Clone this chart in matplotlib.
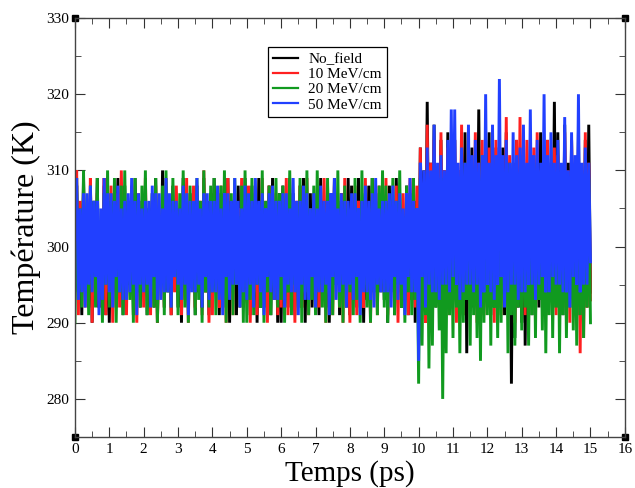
import numpy as np
import matplotlib.pyplot as plt

plt.rcParams['font.family'] = ['Liberation Serif', 'DejaVu Serif']

# time axis: one sample every 0.05 ps, 0 -> 15 ps
temps = np.round(np.arange(0, 301) * 0.05, 2)

# temperatures (K), one row per ps
no_field = [
    298, 308, 293, 305, 291, 309, 295, 304, 292, 307, 290, 306, 294, 309, 292, 303, 296, 308, 291, 305,
    290, 307, 294, 304, 292, 309, 296, 305, 291, 308, 293, 303, 295, 307, 291, 309, 294, 305, 292, 306,
    295, 308, 291, 305, 294, 307, 292, 309, 290, 304, 295, 310, 292, 306, 294, 303, 291, 308, 295, 305,
    292, 305, 290, 309, 294, 304, 292, 307, 296, 305, 291, 308, 294, 303, 292, 309, 295, 306, 291, 307,
    293, 309, 295, 304, 291, 307, 294, 305, 292, 309, 290, 306, 295, 304, 291, 308, 294, 305, 292, 309,
    295, 306, 291, 308, 293, 304, 290, 309, 294, 306, 292, 304, 295, 308, 291, 309, 293, 305, 290, 307,
    290, 308, 294, 305, 292, 309, 295, 306, 291, 304, 294, 308, 292, 309, 290, 305, 295, 307, 292, 304,
    294, 305, 291, 309, 295, 306, 292, 308, 290, 304, 293, 309, 295, 305, 291, 307, 294, 304, 292, 309,
    291, 308, 295, 304, 292, 309, 294, 306, 290, 305, 293, 308, 291, 309, 295, 304, 292, 307, 294, 308,
    293, 306, 290, 308, 295, 305, 291, 309, 294, 307, 292, 304, 295, 308, 291, 305, 293, 309, 290, 306,
    292, 313, 296, 310, 293, 319, 295, 311, 294, 316, 292, 309, 296, 314, 293, 310, 295, 315, 292, 311,
    294, 314, 292, 310, 295, 313, 291, 315, 286, 311, 294, 313, 292, 309, 295, 318, 293, 311, 294, 314,
    293, 315, 291, 311, 295, 313, 292, 310, 294, 313, 291, 315, 293, 310, 282, 311, 288, 314, 292, 312,
    290, 315, 287, 310, 293, 314, 291, 312, 295, 309, 292, 315, 294, 311, 291, 314, 293, 310, 295, 319,
    292, 315, 294, 310, 291, 316, 293, 311, 295, 314, 292, 310, 294, 315, 291, 309, 293, 314, 292, 316,
    294]

field_10 = [
    303, 310, 291, 306, 295, 308, 292, 304, 296, 309, 290, 305, 294, 307, 292, 303, 297, 309, 291, 306,
    294, 308, 290, 305, 296, 307, 292, 310, 295, 304, 291, 306, 297, 308, 293, 303, 290, 307, 295, 305,
    292, 309, 296, 304, 291, 306, 294, 308, 290, 303, 295, 307, 292, 309, 296, 305, 291, 304, 294, 308,
    296, 304, 291, 307, 293, 309, 290, 305, 295, 308, 292, 303, 297, 306, 291, 310, 294, 304, 290, 307,
    291, 306, 295, 303, 292, 308, 296, 305, 290, 309, 294, 304, 291, 307, 296, 305, 292, 309, 295, 303,
    295, 308, 290, 305, 294, 307, 291, 303, 296, 309, 292, 306, 290, 308, 295, 304, 293, 307, 291, 305,
    292, 305, 296, 309, 291, 304, 294, 307, 290, 306, 295, 308, 292, 303, 296, 309, 291, 305, 294, 307,
    296, 307, 292, 304, 295, 309, 290, 306, 294, 303, 291, 308, 296, 305, 292, 307, 290, 309, 295, 304,
    290, 304, 294, 308, 291, 306, 296, 303, 292, 309, 295, 305, 290, 307, 294, 304, 291, 308, 296, 306,
    294, 309, 291, 306, 296, 304, 292, 308, 290, 305, 295, 307, 293, 304, 291, 309, 296, 306, 292, 308,
    289, 313, 293, 308, 290, 316, 294, 311, 291, 314, 296, 309, 292, 315, 289, 310, 295, 313, 291, 309,
    293, 314, 290, 310, 295, 316, 291, 309, 294, 313, 292, 310, 295, 315, 290, 311, 293, 314, 291, 310,
    292, 313, 295, 309, 290, 314, 293, 311, 291, 310, 294, 317, 292, 312, 296, 309, 290, 314, 293, 317,
    294, 311, 291, 314, 296, 309, 292, 313, 290, 315, 293, 310, 295, 311, 291, 314, 294, 309, 292, 313,
    291, 312, 294, 309, 292, 315, 295, 310, 290, 314, 293, 311, 291, 313, 286, 310, 288, 315, 292, 311,
    293]

field_20 = [
    290, 309, 294, 305, 292, 310, 295, 304, 291, 308, 296, 306, 292, 309, 294, 303, 290, 307, 295, 310,
    292, 306, 295, 309, 290, 304, 294, 308, 291, 310, 296, 305, 293, 307, 290, 309, 294, 304, 292, 308,
    295, 310, 291, 305, 294, 307, 292, 309, 290, 304, 295, 308, 291, 310, 294, 306, 292, 309, 296, 305,
    291, 307, 294, 310, 292, 305, 290, 308, 295, 304, 291, 309, 293, 306, 290, 310, 294, 305, 292, 308,
    294, 309, 291, 306, 295, 308, 292, 310, 290, 305, 294, 307, 291, 309, 295, 304, 292, 308, 290, 310,
    290, 305, 293, 309, 291, 307, 295, 304, 292, 310, 290, 306, 294, 308, 291, 305, 295, 309, 292, 307,
    293, 308, 290, 305, 294, 310, 291, 307, 295, 304, 292, 309, 290, 306, 294, 310, 291, 305, 293, 308,
    291, 310, 295, 306, 292, 304, 290, 309, 294, 307, 291, 305, 295, 310, 292, 306, 290, 308, 294, 305,
    294, 306, 291, 309, 293, 305, 290, 310, 295, 307, 292, 304, 290, 309, 294, 306, 291, 308, 295, 310,
    292, 308, 290, 305, 294, 309, 291, 306, 295, 310, 292, 304, 290, 308, 294, 307, 291, 309, 293, 305,
    282, 309, 287, 305, 291, 310, 284, 307, 287, 308, 292, 304, 289, 309, 280, 306, 286, 310, 291, 305,
    288, 310, 292, 306, 286, 309, 290, 311, 293, 305, 287, 310, 291, 307, 288, 309, 285, 312, 290, 306,
    291, 309, 287, 311, 292, 305, 288, 310, 290, 307, 293, 309, 286, 311, 291, 306, 287, 310, 292, 308,
    289, 311, 292, 306, 287, 310, 291, 308, 288, 311, 293, 305, 289, 310, 286, 307, 291, 311, 288, 306,
    292, 310, 286, 307, 291, 311, 288, 305, 292, 310, 289, 308, 287, 311, 291, 306, 288, 310, 292, 309,
    290]

field_50 = [
    301, 309, 293, 305, 294, 307, 292, 307, 295, 308, 294, 306, 296, 306, 291, 305, 293, 309, 295, 307,
    294, 307, 292, 306, 296, 308, 294, 305, 293, 306, 293, 307, 294, 309, 295, 306, 291, 307, 295, 305,
    294, 306, 295, 306, 292, 308, 296, 307, 293, 307, 293, 305, 294, 309, 294, 307, 292, 306, 296, 306,
    295, 305, 293, 308, 295, 307, 291, 306, 294, 306, 294, 309, 295, 305, 292, 307, 296, 307, 293, 306,
    294, 306, 294, 308, 293, 305, 291, 307, 296, 307, 293, 306, 295, 309, 295, 306, 292, 305, 294, 308,
    293, 307, 295, 306, 292, 309, 295, 306, 294, 307, 291, 305, 296, 307, 294, 308, 293, 306, 293, 306,
    296, 307, 292, 307, 295, 305, 294, 309, 294, 306, 291, 306, 295, 308, 293, 307, 293, 305, 296, 307,
    292, 305, 294, 308, 294, 306, 295, 306, 291, 307, 296, 309, 293, 305, 294, 307, 295, 306, 292, 306,
    295, 307, 293, 307, 296, 305, 291, 306, 294, 308, 294, 306, 293, 307, 292, 309, 295, 305, 294, 306,
    294, 306, 294, 307, 292, 308, 296, 306, 293, 307, 295, 305, 291, 307, 296, 309, 294, 306, 294, 305,
    285, 311, 296, 310, 292, 313, 295, 310, 294, 316, 294, 311, 293, 312, 295, 310, 295, 314, 294, 318,
    296, 318, 295, 311, 293, 313, 294, 311, 295, 316, 295, 312, 294, 314, 295, 311, 292, 312, 294, 320,
    295, 311, 294, 316, 293, 312, 295, 322, 296, 312, 292, 314, 294, 311, 295, 315, 295, 312, 293, 313,
    294, 316, 294, 311, 295, 318, 295, 312, 293, 314, 295, 311, 296, 320, 294, 312, 294, 315, 296, 311,
    295, 314, 295, 311, 294, 317, 294, 310, 292, 315, 296, 312, 295, 320, 294, 311, 295, 313, 295, 311,
    298]

series = [
    ('No_field', no_field, 'black'),
    ('10 MeV/cm', field_10, '#ff2020'),
    ('20 MeV/cm', field_20, '#119a1f'),
    ('50 MeV/cm', field_50, '#2140ff'),
]

fig = plt.figure(figsize=(6.35, 4.88), dpi=100)
ax = fig.add_axes([0.118, 0.1045, 0.866, 0.8585])

for name, vals, col in series:
    ax.plot(temps, vals, color=col, lw=2.1, solid_joinstyle='bevel', label=name)

ax.set_xlim(0, 16)
ax.set_ylim(275, 330)
ax.set_xticks(np.arange(0, 17, 1))
ax.set_xticks(np.arange(0, 16.5, 0.5), minor=True)
ax.set_yticks(np.arange(280, 331, 10))
ax.set_yticks(np.arange(275, 331, 5), minor=True)
ax.tick_params(which='both', direction='in', top=True, right=True,
               labelsize=11, color='#333333', pad=4)
ax.tick_params(which='major', length=7)
ax.tick_params(which='minor', length=4)
for sp in ax.spines.values():
    sp.set_color('#444444')
    sp.set_linewidth(1.0)

# xmgrace style corner squares
ax.plot([0, 1, 0, 1], [0, 0, 1, 1], 's', color='black', ms=4,
        transform=ax.transAxes, clip_on=False)

ax.set_xlabel('Temps (ps)', fontsize=21, labelpad=3)
ax.set_ylabel('Température (K)', fontsize=23, labelpad=4)

leg = ax.legend(loc='upper left', bbox_to_anchor=(0.351, 0.931),
                fontsize=11, frameon=True, fancybox=False, framealpha=1,
                edgecolor='black', handlelength=1.6, handletextpad=0.7,
                labelspacing=0.1, borderpad=0.35, borderaxespad=0)
leg.get_frame().set_linewidth(0.9)
for h in leg.get_lines():
    h.set_linewidth(1.6)

fig.savefig('out.png', dpi=100)
